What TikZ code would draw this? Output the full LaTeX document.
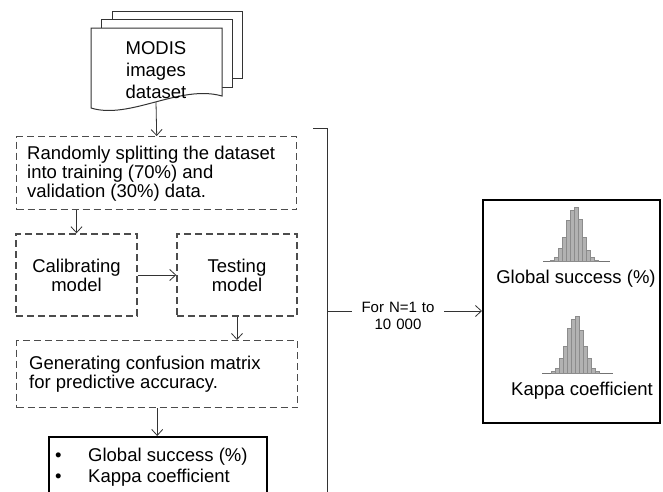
\documentclass[tikz,border=0pt]{standalone}
\usepackage{fontspec}
\setmainfont{Liberation Sans}
\usetikzlibrary{arrows.meta}
\begin{document}
\begin{tikzpicture}[x=1pt,y=-1pt,
  font=\fontsize{18.5}{19}\selectfont,
  dbox/.style={draw=black!70, line width=1.4pt, dash pattern=on 7pt off 4pt},
  arr/.style={draw=black!80, line width=0.8pt, -{Straight Barb[length=6pt,width=11pt]}},
  ln/.style={draw=black!80, line width=0.8pt},
  sbox/.style={draw=black, line width=1.8pt},
  page/.style={draw=black!80, line width=1pt, fill=white},
  bar/.style={fill=black!30, draw=black!45, line width=0.4pt},
  base/.style={draw=black!55, line width=0.6pt}]

\useasboundingbox (0,0) rectangle (663,491);

% stacked document shape
\draw[page] (112,19) -- (112,11) -- (242,11) -- (242,78) -- (232,78);
\draw[page] (101,28) -- (101,19) -- (232,19) -- (232,87) -- (222,87);
\draw[page] (91,28) -- (222,28) -- (222,96) .. controls (180,84) and (130,120) .. (91,108) -- cycle;
\node[align=center, font=\fontsize{18.5}{22}\selectfont] (doc) at (156,70) {MODIS\\images\\dataset};
\coordinate (docb) at (156,102);

% process boxes
\node[dbox, anchor=north west, minimum width=280pt, minimum height=73pt] (split) at (16,136) {};
\node[anchor=west, align=left, inner sep=0pt] (splitt) at ([xshift=11pt,yshift=-1pt]split.west)
  {Randomly splitting the dataset\\into training (70\%) and\\validation (30\%) data.};
\node[dbox, minimum width=121pt, minimum height=82pt, align=center] (calib) at (76.5,275) {Calibrating\\model};
\node[dbox, minimum width=120pt, minimum height=82pt, align=center] (test) at (237,275) {Testing\\model};
\node[dbox, anchor=north west, minimum width=281pt, minimum height=67pt] (gen) at (16,340) {};
\node[anchor=west, align=left, inner sep=0pt] (gent) at ([xshift=13pt]gen.west)
  {Generating confusion matrix\\for predictive accuracy.};
\node[sbox, anchor=north, minimum width=218pt, minimum height=70pt] (res) at (158,436) {};
\node[anchor=base west, inner sep=0pt] (b1) at (55,461) {•};
\node[anchor=base west, inner sep=0pt] (t1) at (88,461) {Global success (\%)};
\node[anchor=base west, inner sep=0pt] (b2) at (55,482) {•};
\node[anchor=base west, inner sep=0pt] (t2) at (88,482) {Kappa coefficient};

% connectors on the left
\draw[arr] (docb) -- (split.north);
\draw[arr] (calib.north |- split.south) -- (calib.north);
\draw[arr] (calib.east) -- (test.west);
\draw[arr] (test.south) -- (test.south |- gen.north);
\draw[arr] (gen.south) -- (gen.south |- res.north);

% bracket and loop
\coordinate (bt) at (313,128);
\coordinate (bc) at (327,128);
\coordinate (bb) at (327,495);
\coordinate (bm) at (327,311);
\draw[ln] (bt) -- (bc) -- (bb);
\node[align=center, font=\fontsize{15}{17}\selectfont, text width=80pt, inner xsep=6pt] (loop) at (398,315.5) {For N=1 to\\10 000};
\node[sbox, anchor=north west, minimum width=177pt, minimum height=223pt] (rbox) at (482,199) {};
\draw[ln] (bm) -- (bm -| loop.west);
\draw[arr] (loop.east |- bm) -- (bm -| rbox.west);

% histograms
\draw[base] (543,261) -- (610,261);
\foreach \x/\h in {550/1,554/4,558/13,562/24,566/41,570/51,574/54,578/42,582/24,586/11,590/4,594/1}
  \draw[bar] (\x,261) rectangle (\x+4,261-\h);
\node[anchor=base] (g) at (576,283) {Global success (\%)};

\draw[base] (542,373) -- (613,373);
\foreach \x/\h in {551/2,555/5,559/15,563/27,567/45,571/54,575/57,579/43,583/27,587/15,591/5,595/2}
  \draw[bar] (\x,373) rectangle (\x+4,373-\h);
\node[anchor=base] (k) at (582,395) {Kappa coefficient};

\end{tikzpicture}
\end{document}
